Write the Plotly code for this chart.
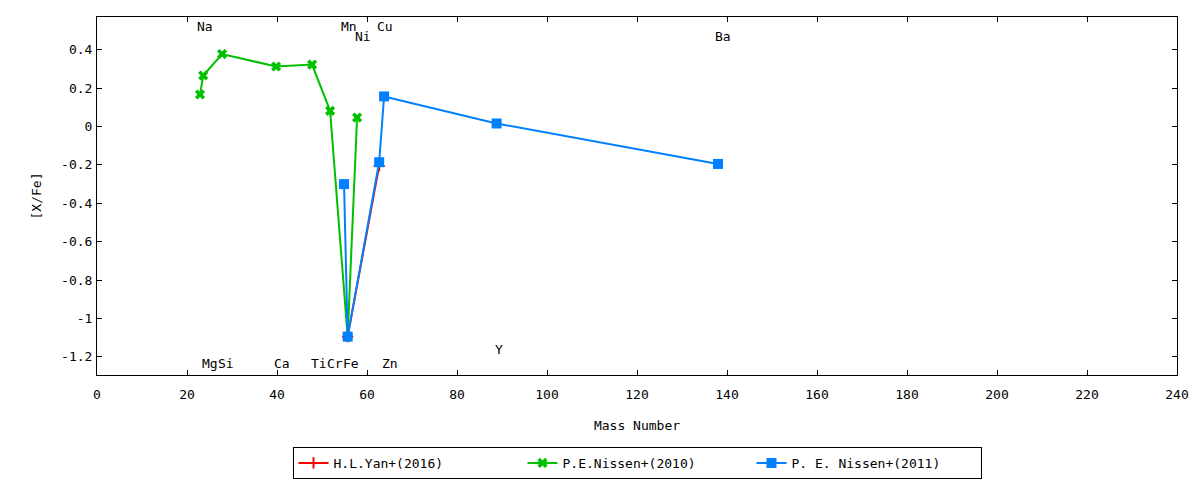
import plotly.graph_objects as go

# ---- data ----
yan_x = [55.7, 62.7]
yan_y = [-1.095, -0.205]

nissen10_x = [22.9, 23.6, 27.8, 39.8, 47.8, 51.8, 55.7, 57.8]
nissen10_y = [0.167, 0.266, 0.378, 0.313, 0.323, 0.082, -1.095, 0.047]

nissen11_x = [54.9, 55.7, 62.7, 63.8, 88.8, 138.0]
nissen11_y = [-0.30, -1.095, -0.186, 0.157, 0.016, -0.195]

label_text = ["Na", "Mn", "Cu", "Ni", "Ba", "Mg", "Si", "Ca", "Ti", "Cr", "Fe", "Zn", "Y"]
label_x = [24.0, 56.0, 64.0, 59.0, 139.0, 25.1, 28.7, 41.0, 49.3, 52.8, 56.4, 65.2, 89.3]
label_y = [0.52, 0.52, 0.52, 0.468, 0.468, -1.233, -1.233, -1.233, -1.233, -1.233, -1.233, -1.233, -1.16]

x_ticks = list(range(0, 241, 20))
y_tickvals = [0.4, 0.2, 0, -0.2, -0.4, -0.6, -0.8, -1, -1.2]
y_ticktext = ["0.4", "0.2", "0", "-0.2", "-0.4", "-0.6", "-0.8", "-1", "-1.2"]

FONT = "DejaVu Sans Mono"
RED = "#ff0000"
GREEN = "#00c000"
BLUE = "#0080ff"

fig = go.Figure()
fig.add_trace(go.Scatter(
    x=yan_x, y=yan_y, mode="lines+markers", name="H.L.Yan+(2016)",
    line=dict(color=RED, width=2),
    marker=dict(symbol="cross-thin", size=8, line=dict(color=RED, width=2), color=RED),
))
fig.add_trace(go.Scatter(
    x=nissen10_x, y=nissen10_y, mode="lines+markers", name="P.E.Nissen+(2010)",
    line=dict(color=GREEN, width=2),
    marker=dict(symbol="x", size=9, color=GREEN),
))
fig.add_trace(go.Scatter(
    x=nissen11_x, y=nissen11_y, mode="lines+markers", name="P. E. Nissen+(2011)",
    line=dict(color=BLUE, width=2),
    marker=dict(symbol="square", size=10, color=BLUE),
))

for t, lx, ly in zip(label_text, label_x, label_y):
    fig.add_annotation(x=lx, y=ly, text=t, showarrow=False,
                       font=dict(family=FONT, size=13, color="#000000"),
                       xanchor="center", yanchor="middle")

axis_common = dict(
    showline=True, linecolor="#000000", linewidth=1, mirror="ticks",
    ticks="inside", ticklen=5, tickcolor="#000000", tickwidth=1,
    showgrid=False, zeroline=False, automargin=False,
    tickfont=dict(family=FONT, size=13, color="#000000"),
)

fig.update_layout(
    width=1200, height=480,
    paper_bgcolor="white", plot_bgcolor="white",
    margin=dict(l=97, r=23, t=17, b=105),
    font=dict(family=FONT, size=13, color="#000000"),
    xaxis=dict(range=[0, 240], tickvals=x_ticks,
               title=dict(text="Mass Number", font=dict(family=FONT, size=13), standoff=20),
               ticklabelstandoff=7,
               **axis_common),
    yaxis=dict(range=[-1.295, 0.571], tickvals=y_tickvals, ticktext=y_ticktext,
               title=dict(text="[X/Fe]", font=dict(family=FONT, size=13), standoff=16),
               ticklabelstandoff=1,
               **axis_common),
    showlegend=True,
    legend=dict(orientation="h", x=0.5, xanchor="center",
                yref="container", y=0.0021, yanchor="bottom",
                bordercolor="#000000", borderwidth=1, bgcolor="white",
                font=dict(family=FONT, size=13), entrywidth=184, tracegroupgap=0),
)

fig.write_html("out.html", config={"displayModeBar": False},
               post_script="document.body.style.margin='0px';")
